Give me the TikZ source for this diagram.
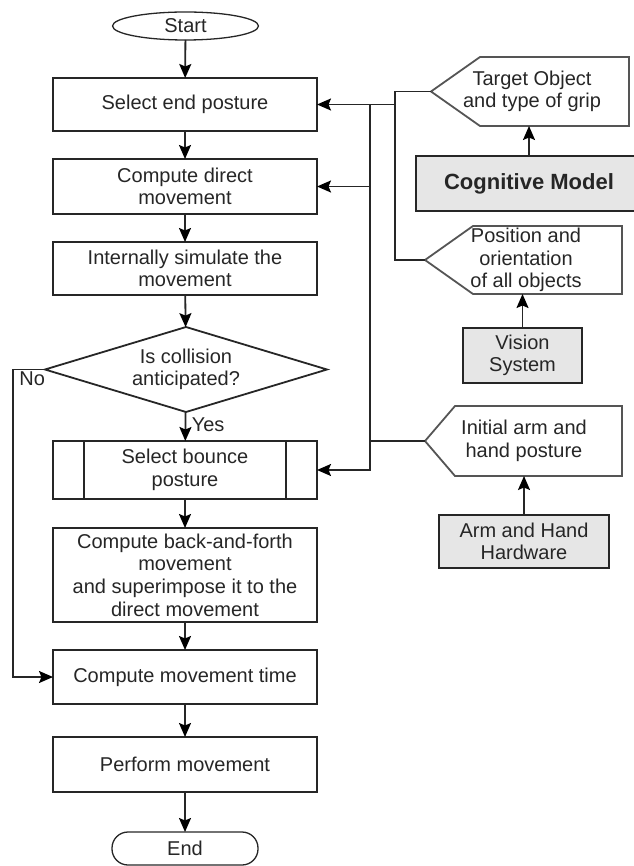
\documentclass[tikz,border=0pt]{standalone}
\usepackage{fontspec}
\setmainfont{Liberation Sans}
\usepackage{xcolor}
\usetikzlibrary{arrows.meta,positioning,calc,shapes.geometric}
\definecolor{linegray}{HTML}{262626}
\definecolor{hexgray}{HTML}{555555}
\definecolor{boxfill}{HTML}{E6E6E6}

\begin{document}
\begin{tikzpicture}[x=1pt,y=-1pt,
  every node/.style={font=\fontsize{20}{22.6}\selectfont,text=black!85,align=center,outer sep=0pt},
  box/.style={draw=linegray,line width=1.8pt,minimum width=264,inner sep=2pt},
  sub/.style={box},
  dec/.style={draw=linegray,line width=1.8pt,diamond,aspect=3.3,minimum width=282,minimum height=85,inner sep=0pt},
  term/.style={draw=linegray,line width=1.3pt,minimum width=146,inner sep=0pt},
  gbox/.style={draw=linegray,line width=1.8pt,fill=boxfill,inner sep=2pt},
  htext/.style={inner sep=0pt},
  hexline/.style={draw=hexgray,line width=1.8pt},
  e/.style={-{Stealth[length=14pt,width=12pt,inset=2.5pt,color=black]},line width=1.8pt,draw=linegray},
  l/.style={line width=1.8pt,draw=linegray}]
 \useasboundingbox (0,0) rectangle (633,866);
 % main flow
 \node[term,ellipse,minimum height=28] (start) at (185.5,26) {Start};
 \node[box,minimum height=53] (sel) at (185,104.5) {Select end posture};
 \node[box,minimum height=55] (dir) at (185,186.5) {Compute direct\\movement};
 \node[box,minimum height=53] (sim) at (185,268.5) {Internally simulate the\\movement};
 \node[dec] (dia) at (186,369.5) {Is collision\\anticipated?};
 \node[sub,minimum height=58] (bnc) at (185,470) {Select bounce\\posture};
 \draw[l] ([xshift=31]bnc.north west) -- ([xshift=31]bnc.south west);
 \draw[l] ([xshift=-31]bnc.north east) -- ([xshift=-31]bnc.south east);
 \node[box,minimum height=94] (bf) at (185,575) {Compute back-and-forth\\movement\\and superimpose it to the\\direct movement};
 \node[box,minimum height=54] (mt) at (185,677) {Compute movement time};
 \node[box,minimum height=55] (pf) at (185,764.5) {Perform movement};
 \node[term,rounded corners=16pt,minimum height=33] (end) at (185,848.5) {End};
 \draw[e] (start) -- (sel);
 \draw[e] (sel) -- (dir);
 \draw[e] (dir) -- (sim);
 \draw[e] (sim) -- (dia);
 \draw[e] (dia) -- node[anchor=west,xshift=3pt,pos=0.45]{Yes} (bnc);
 \draw[e] (bnc) -- (bf);
 \draw[e] (bf) -- (mt);
 \draw[e] (mt) -- (pf);
 \draw[e] (pf) -- (end);
 \draw[e] (dia.west) -- ++(-32,0) coordinate (noc) |- (mt.west);
 \node[anchor=north west] (no) at ([xshift=3,yshift=1]noc) {No};
 % inputs on the right
 \draw[hexline] (431,91.5) coordinate (tgttip) -- (480,57) -- (629,57) -- (629,126) -- (480,126) -- cycle;
 \draw[hexline] (425,260) coordinate (postip) -- (473,226) -- (622,226) -- (622,294) -- (473,294) -- cycle;
 \draw[hexline] (425,441) coordinate (armtip) -- (455,406) -- (622,406) -- (622,476) -- (455,476) -- cycle;
 \node[htext,minimum height=69] (tgt) at (532,91.5) {Target Object\\and type of grip};
 \node[htext,minimum height=68] (pos) at (526,260) {Position and\\orientation\\of all objects};
 \node[htext,minimum height=70] (arm) at (524,441) {Initial arm and\\hand posture};
 \node[gbox,minimum width=226,minimum height=55,font=\fontsize{22}{24}\selectfont\bfseries] (cog) at (529,183.5) {Cognitive Model};
 \node[gbox,minimum width=119,minimum height=55] (vis) at (522.5,355.5) {Vision\\System};
 \node[gbox,minimum width=170,minimum height=53] (hw) at (524,541.5) {Arm and Hand\\Hardware};
 \draw[e] (cog.north) -- (cog.north |- tgt.south);
 \draw[e] (vis.north) -- (vis.north |- pos.south);
 \draw[e] (hw.north) -- (hw.north |- arm.south);
 % buses
 \coordinate (busA) at (395,0);
 \coordinate (busB) at (370,0);
 \draw[l] (tgttip) -- (tgttip -| busA) -- (postip -| busA) -- (postip);
 \draw[e] (sel.east -| busA) -- (sel.east);
 \draw[e] (sel.east -| busB) |- (bnc.east);
 \draw[e] (dir.east -| busB) -- (dir.east);
 \draw[l] (armtip) -- (armtip -| busB);
\end{tikzpicture}
\end{document}
